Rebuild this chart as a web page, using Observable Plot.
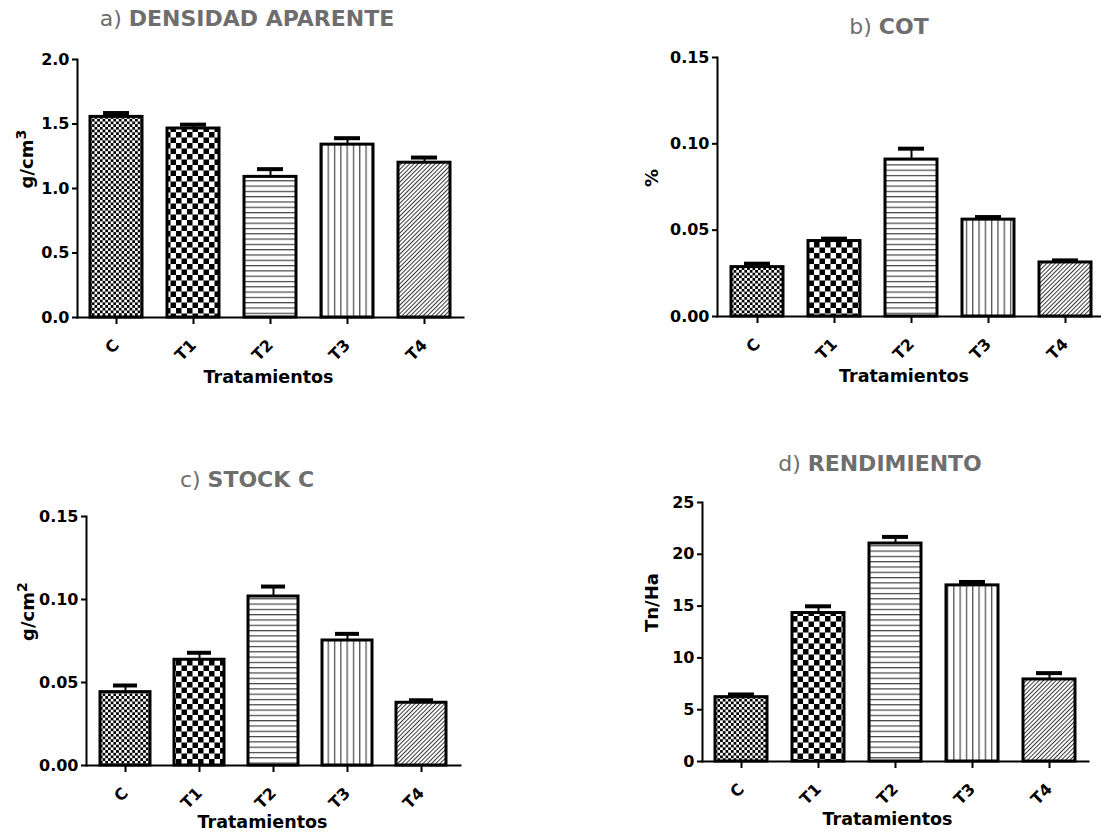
<!DOCTYPE html>
<html>
<head>
<meta charset="utf-8">
<script src="https://cdn.jsdelivr.net/npm/d3@7"></script>
<script src="https://cdn.jsdelivr.net/npm/@observablehq/plot@0.6"></script>
<style>
  html, body { margin: 0; padding: 0; background: #fff; overflow: hidden; }
  #root { position: relative; width: 1101px; height: 836px; overflow: hidden; background: #fff; }
  .panel { position: absolute; }
  .title { position: absolute; transform: translateX(-50%); white-space: nowrap;
           font-family: "DejaVu Sans", sans-serif; font-size: 22px; line-height: 22px; color: #6e6e6e; }
  .title b { font-weight: bold; }
</style>
</head>
<body>
<div id="root"></div>
<script>
// ---- data ----
const categories = ["C", "T1", "T2", "T3", "T4"];

const densidadMean = [1.555, 1.465, 1.09, 1.34, 1.20];
const densidadSem  = [0.03, 0.03, 0.06, 0.05, 0.04];
const densidadTicks = [0, 0.5, 1.0, 1.5, 2.0];

const cotMean = [0.0286, 0.0437, 0.0909, 0.0561, 0.0313];
const cotSem  = [0.0020, 0.0014, 0.0063, 0.0015, 0.0012];
const cotTicks = [0, 0.05, 0.10, 0.15];

const stockMean = [0.0442, 0.0637, 0.1018, 0.0753, 0.0378];
const stockSem  = [0.0040, 0.0042, 0.0060, 0.0040, 0.0015];
const stockTicks = [0, 0.05, 0.10, 0.15];

const rendMean = [6.21, 14.33, 21.04, 17.0, 7.92];
const rendSem  = [0.26, 0.65, 0.64, 0.33, 0.61];
const rendTicks = [0, 5, 10, 15, 20, 25];

const xLabel = "Tratamientos";

// ---- patterns ----
function addPatterns(svg, p) {
  const ns = "http://www.w3.org/2000/svg";
  const defs = document.createElementNS(ns, "defs");
  defs.innerHTML = `
    <pattern id="${p}0" width="5.4" height="5.4" patternUnits="userSpaceOnUse">
      <rect width="5.4" height="5.4" fill="#fff"/>
      <rect width="2.7" height="2.7" fill="#000"/>
      <rect x="2.7" y="2.7" width="2.7" height="2.7" fill="#000"/>
    </pattern>
    <pattern id="${p}1" width="11" height="11" patternUnits="userSpaceOnUse">
      <rect width="11" height="11" fill="#fff"/>
      <rect width="5.5" height="5.5" fill="#000"/>
      <rect x="5.5" y="5.5" width="5.5" height="5.5" fill="#000"/>
    </pattern>
    <pattern id="${p}2" width="10" height="5.3" patternUnits="userSpaceOnUse">
      <rect width="10" height="5.3" fill="#fff"/>
      <rect y="0" width="10" height="1.2" fill="#444"/>
    </pattern>
    <pattern id="${p}3" width="6.3" height="10" patternUnits="userSpaceOnUse">
      <rect width="6.3" height="10" fill="#fff"/>
      <rect x="0" width="1.3" height="10" fill="#555"/>
    </pattern>
    <pattern id="${p}4" width="3" height="10" patternUnits="userSpaceOnUse" patternTransform="rotate(45)">
      <rect width="3" height="10" fill="#fff"/>
      <rect x="0" width="0.9" height="10" fill="#222"/>
    </pattern>`;
  svg.insertBefore(defs, svg.firstChild);
}

function superscriptLabel(svg, label) {
  const m = label.match(/^(.*?)([²³])$/);
  if (!m) return;
  const digit = m[2] === "²" ? "2" : "3";
  svg.querySelectorAll("text").forEach(t => {
    if (t.textContent === label) {
      t.textContent = "";
      const ns = "http://www.w3.org/2000/svg";
      const a = document.createElementNS(ns, "tspan");
      a.textContent = m[1];
      const b = document.createElementNS(ns, "tspan");
      b.textContent = digit;
      b.setAttribute("dy", "-0.5em");
      b.setAttribute("font-size", "0.78em");
      t.appendChild(a); t.appendChild(b);
    }
  });
}

function panel(opts) {
  const {id, mean, sem, ticks, fmt, ylabel, left, top, width, height, margins, ylabelDx, xlabelDx, xlabelDy} = opts;
  const data = categories.map((c, i) => ({cat: c, mean: mean[i], hi: mean[i] + sem[i], pat: `url(#${id}${i})`}));
  const chart = Plot.plot({
    width, height,
    marginLeft: margins[0], marginRight: margins[1], marginTop: margins[2], marginBottom: margins[3],
    x: {domain: categories, paddingInner: 0.33, paddingOuter: 0.165, label: null},
    y: {domain: [0, ticks[ticks.length - 1]], label: null},
    color: {type: "identity"},
    style: {fontFamily: "'DejaVu Sans', sans-serif", fontSize: "16px", fontWeight: "bold", color: "#000",
            background: "transparent", maxWidth: "none", overflow: "visible"},
    marks: [
      Plot.axisY({ticks, tickFormat: d3.format(fmt), tickSize: 5, tickPadding: 3, strokeWidth: 2, label: null,
                  fontSize: 16, fontWeight: "bold"}),
      Plot.axisX({tickSize: 7, tickPadding: 18, tickRotate: -45, strokeWidth: 2, label: null,
                  fontSize: 16, fontWeight: "bold"}),
      Plot.ruleX(data, {x: "cat", y1: "mean", y2: "hi", stroke: "#000", strokeWidth: 2}),
      Plot.barY(data, {x: "cat", y: "mean", fill: "pat", stroke: "#000", strokeWidth: 3}),
      Plot.tickY(data, {x: "cat", y: "hi", stroke: "#000", strokeWidth: 4, insetLeft: 13, insetRight: 13}),
      Plot.frame({anchor: "left", stroke: "#000", strokeWidth: 2}),
      Plot.frame({anchor: "bottom", stroke: "#000", strokeWidth: 2}),
      Plot.text([xLabel], {text: d => d, frameAnchor: "bottom", dy: xlabelDy, dx: xlabelDx,
                           fontSize: 17.5, fontWeight: "bold", fill: "#000"}),
      Plot.text([ylabel], {text: d => d, frameAnchor: "left", rotate: -90, dx: ylabelDx,
                           fontSize: 18, fontWeight: "bold", fill: "#000"})
    ]
  });
  addPatterns(chart, id);
  superscriptLabel(chart, ylabel);
  const wrap = document.createElement("div");
  wrap.className = "panel";
  wrap.style.left = left + "px";
  wrap.style.top = top + "px";
  wrap.appendChild(chart);
  document.getElementById("root").appendChild(wrap);
}

function title(prefix, main, cx, baseline) {
  const d = document.createElement("div");
  d.className = "title";
  d.style.left = cx + "px";
  d.style.top = (baseline - 18.6) + "px";
  d.innerHTML = `${prefix} <b>${main}</b>`;
  document.getElementById("root").appendChild(d);
}

panel({id: "pa", mean: densidadMean, sem: densidadSem, ticks: densidadTicks, fmt: ".1f", ylabel: "g/cm³",
       left: 0, top: 0, width: 550, height: 418, margins: [77, 87, 59, 101], ylabelDx: -50, xlabelDx: -2, xlabelDy: 65});
panel({id: "pb", mean: cotMean, sem: cotSem, ticks: cotTicks, fmt: ".2f", ylabel: "%",
       left: 550, top: 0, width: 560, height: 418, margins: [167, 6, 57, 102], ylabelDx: -65, xlabelDx: -7, xlabelDy: 65});
panel({id: "pc", mean: stockMean, sem: stockSem, ticks: stockTicks, fmt: ".2f", ylabel: "g/cm²",
       left: 0, top: 418, width: 550, height: 418, margins: [86, 90, 98, 71], ylabelDx: -58, xlabelDx: -11, xlabelDy: 62});
panel({id: "pd", mean: rendMean, sem: rendSem, ticks: rendTicks, fmt: "d", ylabel: "Tn/Ha",
       left: 550, top: 418, width: 560, height: 418, margins: [152, 22, 84, 75], ylabelDx: -50, xlabelDx: -8, xlabelDy: 63});

title("a)", "DENSIDAD APARENTE", 247, 27);
title("b)", "COT", 889, 35);
title("c)", "STOCK C", 247, 488);
title("d)", "RENDIMIENTO", 880, 472);
</script>
</body>
</html>
